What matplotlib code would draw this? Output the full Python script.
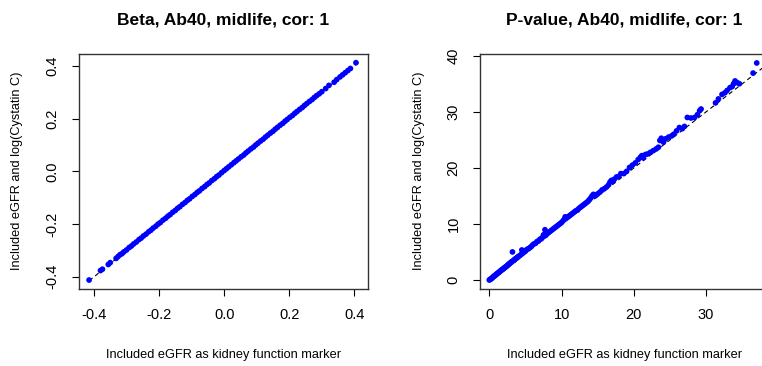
import matplotlib
matplotlib.use("Agg")
import matplotlib.pyplot as plt

plt.rcParams['font.family'] = ['Liberation Sans', 'DejaVu Sans']

# left panel: beta estimates (eGFR vs eGFR + log(Cystatin C))
beta_x = [-0.415, -0.380, -0.374, -0.356, -0.350, -0.332, -0.326, -0.320, -0.314, -0.308,
          -0.300, -0.292, -0.285, -0.278, -0.270, -0.262, -0.255, -0.248, -0.240, -0.232,
          -0.225, -0.218, -0.210, -0.203, -0.196, -0.188, -0.180, -0.173, -0.166, -0.158,
          -0.150, -0.143, -0.136, -0.128, -0.120, -0.113, -0.106, -0.098, -0.090, -0.083,
          -0.076, -0.068, -0.060, -0.053, -0.046, -0.038, -0.030, -0.023, -0.016, -0.008,
          0.000, 0.007, 0.014, 0.022, 0.030, 0.037, 0.044, 0.052, 0.060, 0.067,
          0.074, 0.082, 0.090, 0.097, 0.104, 0.112, 0.120, 0.127, 0.134, 0.142,
          0.150, 0.157, 0.164, 0.172, 0.180, 0.187, 0.194, 0.202, 0.210, 0.217,
          0.224, 0.232, 0.240, 0.247, 0.254, 0.262, 0.270, 0.277, 0.284, 0.292,
          0.300, 0.312, 0.322, 0.338, 0.346, 0.356, 0.364, 0.372, 0.380, 0.388, 0.405]
beta_y = [-0.412, -0.376, -0.371, -0.353, -0.346, -0.330, -0.323, -0.316, -0.312, -0.305,
          -0.298, -0.289, -0.283, -0.275, -0.268, -0.259, -0.253, -0.245, -0.238, -0.229,
          -0.223, -0.215, -0.208, -0.200, -0.194, -0.185, -0.178, -0.170, -0.164, -0.155,
          -0.148, -0.140, -0.134, -0.125, -0.118, -0.110, -0.104, -0.095, -0.088, -0.080,
          -0.074, -0.065, -0.058, -0.050, -0.044, -0.035, -0.028, -0.020, -0.014, -0.005,
          0.003, 0.010, 0.017, 0.025, 0.033, 0.040, 0.047, 0.055, 0.062, 0.070,
          0.077, 0.085, 0.092, 0.100, 0.107, 0.115, 0.122, 0.130, 0.137, 0.145,
          0.152, 0.160, 0.167, 0.175, 0.182, 0.190, 0.197, 0.205, 0.212, 0.220,
          0.227, 0.235, 0.242, 0.250, 0.257, 0.265, 0.272, 0.280, 0.287, 0.294,
          0.302, 0.314, 0.326, 0.338, 0.348, 0.358, 0.366, 0.374, 0.382, 0.390, 0.412]

# right panel: -log10 p-values
p_x = [0.0, 0.1, 0.2, 0.3, 0.4, 0.5, 0.6, 0.7, 0.8, 0.9, 1.0, 1.1, 1.2, 1.3, 1.4, 1.5,
       1.6, 1.7, 1.8, 1.9, 2.0, 2.1, 2.2, 2.3, 2.4, 2.5, 2.6, 2.7, 2.8, 2.9, 3.0, 3.1,
       3.2, 3.3, 3.4, 3.5, 3.6, 3.7, 3.8, 3.9, 4.0, 4.2, 4.4, 4.5, 4.6, 4.8, 5.0, 5.2,
       5.4, 5.6, 5.8, 6.0, 6.2, 6.4, 6.6, 6.8, 7.0, 7.2, 7.4, 7.5, 7.6, 7.7, 7.8, 8.0,
       8.2, 8.4, 8.6, 8.8, 9.0, 9.2, 9.4, 9.6, 9.8, 10.0, 10.2, 10.4, 10.5, 10.6, 10.8,
       11.0, 11.2, 11.4, 11.6, 11.8, 12.0, 12.2, 12.4, 12.6, 12.8, 13.0, 13.2, 13.4,
       13.6, 13.8, 14.0, 14.2, 14.4, 14.6, 14.8, 15.0, 15.3, 15.6, 15.9, 16.2, 16.5,
       16.7, 16.9, 17.1, 17.3, 17.6, 17.9, 18.2, 18.6, 19.0, 19.4, 19.8, 20.2, 20.6,
       20.9, 21.1, 21.3, 21.6, 21.9, 22.3, 22.7, 23.1, 23.4, 23.6, 23.8, 24.1, 24.4,
       24.8, 25.2, 25.5, 25.9, 26.3, 26.7, 27.0, 27.4, 27.9, 28.4, 28.8, 29.1, 29.3,
       31.3, 31.7, 32.2, 32.6, 32.9, 33.3, 33.6, 33.8, 34.0, 34.3, 34.6, 36.5, 37.0]
p_y = [0.05, 0.15, 0.25, 0.3, 0.45, 0.55, 0.7, 0.75, 0.9, 0.95, 1.1, 1.2, 1.3, 1.4, 1.5, 1.6,
       1.75, 1.8, 1.95, 2.0, 2.1, 2.25, 2.3, 2.45, 2.5, 2.65, 2.75, 2.9, 2.95, 3.1, 3.2, 3.3,
       5.05, 3.5, 3.55, 3.7, 3.8, 3.9, 4.0, 4.1, 4.2, 4.4, 4.6, 5.4, 4.8, 5.0, 5.2, 5.5,
       5.6, 5.8, 6.0, 6.3, 6.5, 6.6, 6.9, 7.0, 7.3, 7.4, 7.7, 8.1, 7.9, 9.0, 8.0, 8.3,
       8.5, 8.7, 8.9, 9.1, 9.3, 9.5, 9.7, 9.9, 10.1, 10.3, 10.6, 10.9, 11.3, 11.0, 11.2,
       11.4, 11.6, 11.8, 12.0, 12.2, 12.4, 12.5, 12.8, 13.0, 13.2, 13.4, 13.6, 13.8,
       14.0, 14.3, 14.6, 15.0, 15.3, 15.0, 15.2, 15.4, 15.7, 16.1, 16.3, 16.6, 17.0,
       17.5, 17.8, 17.6, 18.0, 18.4, 18.5, 19.0, 19.0, 19.4, 20.1, 20.5, 20.9, 21.5,
       21.9, 22.2, 21.8, 22.4, 22.5, 22.8, 23.1, 23.4, 23.7, 24.9, 25.3, 24.6, 25.2,
       25.5, 25.7, 26.0, 26.6, 27.2, 27.0, 27.4, 29.0, 28.9, 29.0, 29.5, 30.2, 30.5,
       31.6, 32.3, 33.1, 33.4, 33.8, 34.3, 34.5, 35.0, 35.5, 35.2, 35.0, 36.9, 38.7]

titles = ["Beta, Ab40, midlife, cor: 1", "P-value, Ab40, midlife, cor: 1"]
xlab = "Included eGFR as kidney function marker"
ylab = "Included eGFR and log(Cystatin C)"

W, H = 762, 366
fig = plt.figure(figsize=(W / 100, H / 100), dpi=100)

def px_axes(x0, y0, x1, y1):
    return fig.add_axes([x0 / W, 1 - y1 / H, (x1 - x0) / W, (y1 - y0) / H])

ax1 = px_axes(79, 54, 368, 289)
ax2 = px_axes(480, 54, 769, 289)

for ax, xs, ys in [(ax1, beta_x, beta_y), (ax2, p_x, p_y)]:
    lo = min(min(xs), min(ys))
    hi = max(max(xs), max(ys))
    ax.plot([lo, hi], [lo, hi], color='black', lw=0.8, ls=(0, (4, 3)), zorder=1)
    ax.scatter(xs, ys, s=17, color='#0000FF', edgecolors='none', zorder=2)
    for sp in ax.spines.values():
        sp.set_linewidth(1.0)
        sp.set_color('#333333')
    ax.tick_params(direction='out', length=5, width=0.8, labelsize=10.5, pad=9)

ax1.set_xlim(-0.446, 0.442)
ax1.set_ylim(-0.446, 0.445)
ax1.set_xticks([-0.4, -0.2, 0.0, 0.2, 0.4])
ax1.set_xticklabels(["-0.4", "-0.2", "0.0", "0.2", "0.4"])
ax1.set_yticks([-0.4, -0.2, 0.0, 0.2, 0.4])
ax1.set_yticklabels(["-0.4", "-0.2", "0.0", "0.2", "0.4"], rotation=90, va='center')

ax2.set_xlim(-1.29, 38.7)
ax2.set_ylim(-1.55, 40.3)
ax2.set_xticks([0, 10, 20, 30])
ax2.set_yticks([0, 10, 20, 30, 40])
ax2.set_yticklabels(["0", "10", "20", "30", "40"], rotation=90, va='center')

for cx, t in [(223.5, titles[0]), (624.5, titles[1])]:
    fig.text(cx / W, 1 - 20 / H, t, ha='center', va='center', fontsize=12.5, fontweight='bold')
for cx in [223.5, 624.5]:
    fig.text(cx / W, 1 - 355 / H, xlab, ha='center', va='center', fontsize=9.2)
for cx in [17, 418.7]:
    fig.text(cx / W, 1 - 171 / H, ylab, ha='center', va='center', fontsize=9.2, rotation=90)

fig.savefig("out.png", dpi=100)
